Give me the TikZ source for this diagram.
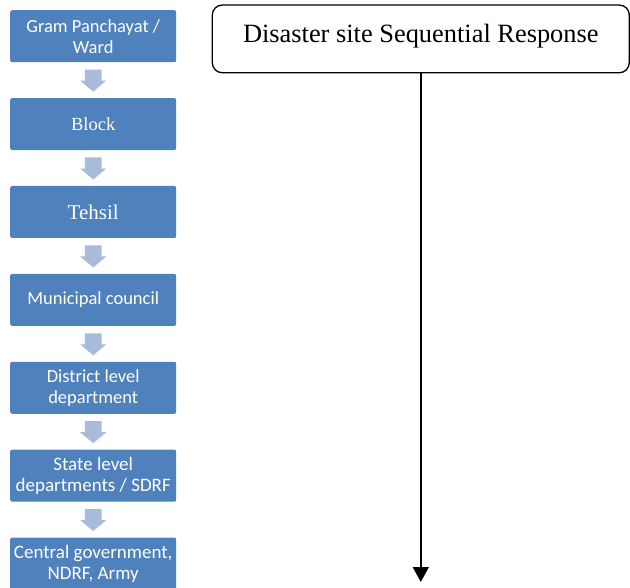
\documentclass[tikz,border=0pt]{standalone}
\usepackage{fontspec}
\setmainfont{Liberation Serif}
\newfontfamily\calibri{Carlito}
\usepackage{tikz}
\usetikzlibrary{
    arrows.meta,
    positioning,
    calc,
    shapes.arrows
}
\tikzset{
  level/.style   = {draw=none, fill=LevelBlue, rounded corners=2pt,
                    minimum width=166pt, minimum height=52pt,
                    align=center, text=white},
  sans/.style    = {font=\calibri\fontsize{18.5}{21}\selectfont},
  serif/.style   = {font=\fontsize{18.5}{22}\selectfont},
  downarr/.style = {single arrow, draw=none, fill=ArrowBlue,
                    shape border rotate=270, inner xsep=8.2pt,
                    inner ysep=0pt, single arrow head extend=4.7pt,
                    single arrow tip angle=100, minimum height=22pt},
  title/.style   = {draw, rounded corners=10pt, line width=1.3pt,
                    minimum width=417pt, minimum height=67.7pt,
                    text height=18pt, text depth=9.8pt,
                    font=\fontsize{26.4}{30}\selectfont},
  arr/.style     = {-{Triangle[length=15pt,width=16pt]}, line width=1.5pt}
}
\definecolor{LevelBlue}{RGB}{79,129,189}
\definecolor{ArrowBlue}{RGB}{167,187,219}

\begin{document}
\begin{tikzpicture}[node distance=35.5pt]
\useasboundingbox (0,0) rectangle (630pt,-588pt);
% hierarchy of levels
\node[level,sans,anchor=north west] (gp) at (10pt,-10pt) {Gram Panchayat /\\Ward};
\node[level,serif,below=of gp] (blk) {Block};
\node[level,serif,font=\fontsize{21}{25}\selectfont,below=of blk] (teh) {Tehsil};
\node[level,sans,below=of teh] (mun) {Municipal council};
\node[level,sans,below=of mun] (dist) {District level\\department};
\node[level,sans,font=\calibri\fontsize{19}{21}\selectfont,below=of dist] (state) {State level\\departments / SDRF};
\node[level,sans,font=\calibri\fontsize{19}{21}\selectfont,below=of state] (cent) {Central government,\\NDRF, Army};
\node[downarr,below=7pt of gp,anchor=tail] (a1) {};
\node[downarr,below=7pt of blk,anchor=tail] (a2) {};
\node[downarr,below=7pt of teh,anchor=tail] (a3) {};
\node[downarr,below=7pt of mun,anchor=tail] (a4) {};
\node[downarr,below=7pt of dist,anchor=tail] (a5) {};
\node[downarr,below=7pt of state,anchor=tail] (a6) {};
% response
\node[title] (resp) at (420.8pt,-38.9pt) {Disaster site Sequential Response};
\coordinate (end) at (resp.south |- 0,-582pt);
\draw[arr] (resp.south) -- (end);
\end{tikzpicture}
\end{document}
